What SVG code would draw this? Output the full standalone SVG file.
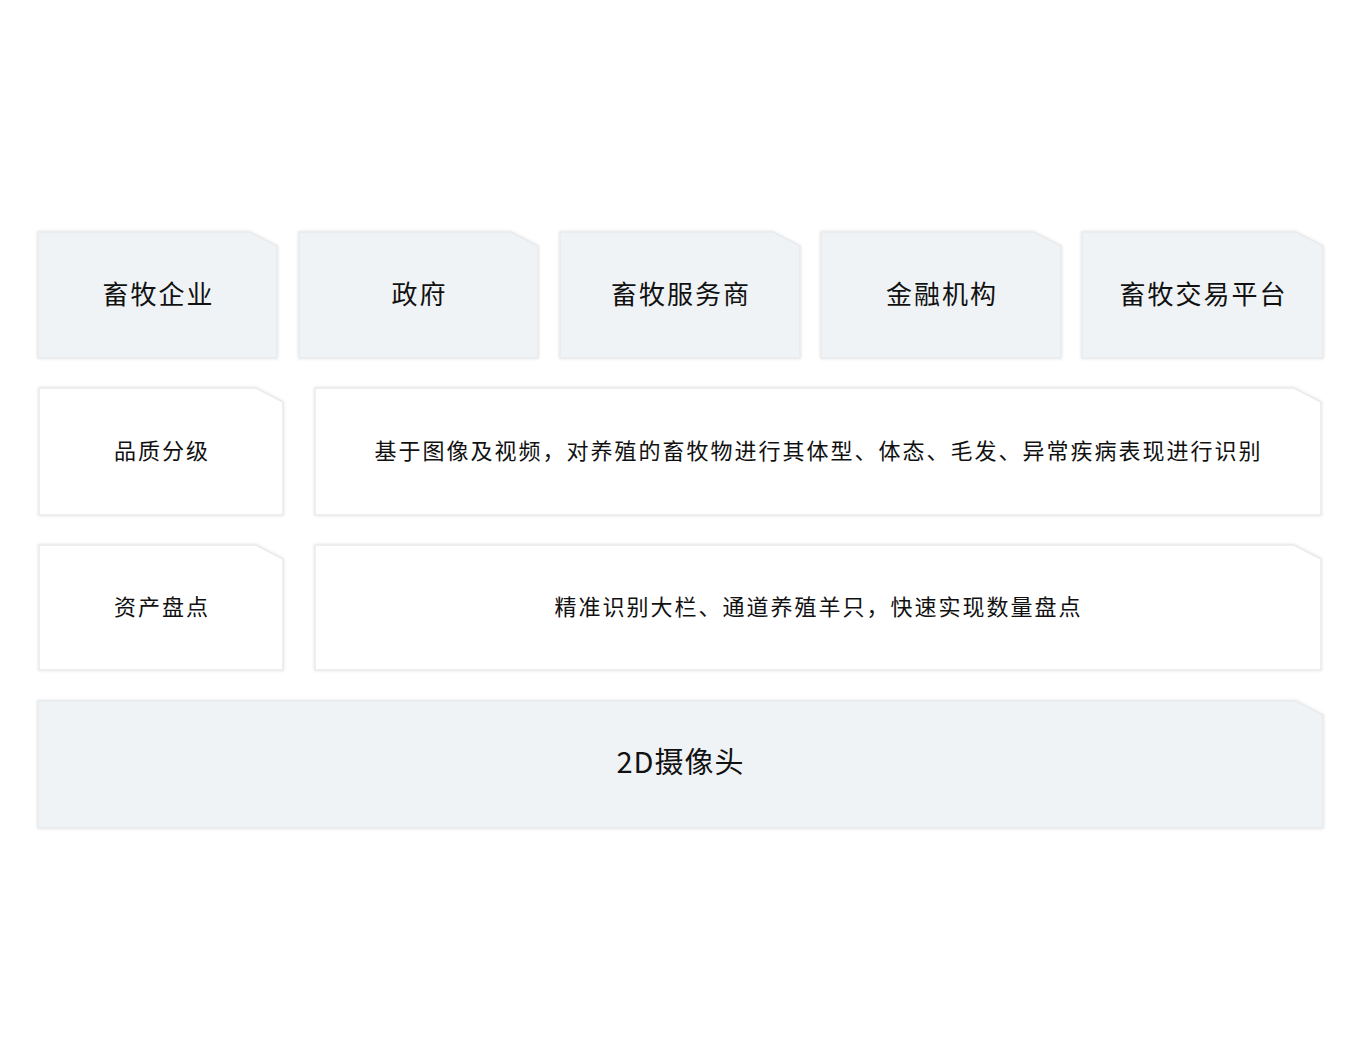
<svg xmlns="http://www.w3.org/2000/svg" width="1360" height="1060" viewBox="0 0 1360 1060">
<defs>
<filter id="sh" x="-5%" y="-10%" width="110%" height="120%">
<feDropShadow dx="0" dy="0" stdDeviation="1.5" flood-color="#000" flood-opacity="0.12"/>
</filter>
</defs>
<style>
.g{fill:#f0f3f6;stroke:#e9eaec;stroke-width:1.5;filter:url(#sh)}
.w{fill:#ffffff;stroke:#e9eaec;stroke-width:1.5;filter:url(#sh)}
text{font-family:"Noto Sans CJK SC","Noto Sans",sans-serif;fill:#111;text-anchor:middle;dominant-baseline:central}
.t1{font-size:26px;letter-spacing:2px}
.t2{font-size:22px;letter-spacing:2px}
.t3{font-size:29px;letter-spacing:1px}
</style>
<rect width="1360" height="1060" fill="#fff"/>
<g id="n1"><path class="g" d="M38 232H250L277 246V358H38Z"/><text class="t1" x="158.5" y="292">畜牧企业</text></g>
<g id="n2"><path class="g" d="M299 232H511L538 246V358H299Z"/><text class="t1" x="419.5" y="292">政府</text></g>
<g id="n3"><path class="g" d="M560 232H773L800 246V358H560Z"/><text class="t1" x="681" y="292">畜牧服务商</text></g>
<g id="n4"><path class="g" d="M821 232H1034L1061 246V358H821Z"/><text class="t1" x="942" y="292">金融机构</text></g>
<g id="n5"><path class="g" d="M1082 232H1296L1323 246V358H1082Z"/><text class="t1" x="1203.5" y="292">畜牧交易平台</text></g>
<g id="n6"><path class="w" d="M39 388H256L283 402V515H39Z"/><text class="t2" x="162" y="448.5">品质分级</text></g>
<g id="n7"><path class="w" d="M315 388H1294L1321 402V515H315Z"/><text class="t2" x="818.5" y="448.5">基于图像及视频，对养殖的畜牧物进行其体型、体态、毛发、异常疾病表现进行识别</text></g>
<g id="n8"><path class="w" d="M39 545H256L283 559V670H39Z"/><text class="t2" x="162" y="604.5">资产盘点</text></g>
<g id="n9"><path class="w" d="M315 545H1294L1321 559V670H315Z"/><text class="t2" x="818.5" y="604.5">精准识别大栏、通道养殖羊只，快速实现数量盘点</text></g>
<g id="n10"><path class="g" d="M38 701H1296L1323 715V828H38Z"/><text class="t3" x="680.5" y="760">2D摄像头</text></g>
<g id="connectors"></g>
</svg>
